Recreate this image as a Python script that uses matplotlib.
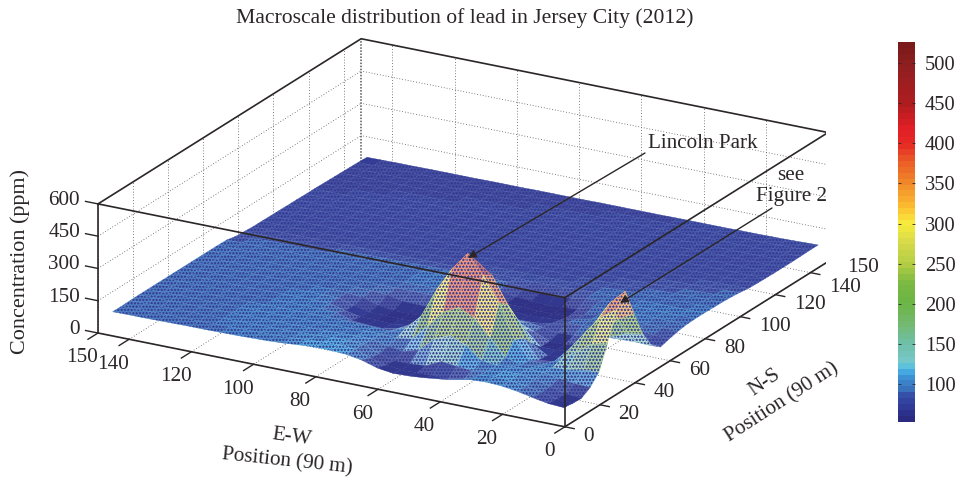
import numpy as np
import matplotlib
matplotlib.use("Agg")
import matplotlib.pyplot as plt
from matplotlib.cm import ScalarMappable
from matplotlib.colors import LinearSegmentedColormap, Normalize
from mpl_toolkits.mplot3d import proj3d

plt.rcParams["font.family"] = ["Liberation Serif", "DejaVu Serif"]
plt.rcParams["hatch.linewidth"] = 0.3
INK = "#2b2627"
FS = 15.2

ew_nodes = [2, 7, 12, 17, 22, 27, 32, 37, 42, 47, 52, 57, 62, 67, 72, 77, 82, 87, 92, 97,
            102, 107, 112, 117, 122, 127, 132, 137, 142, 147]
ns_nodes = [3, 8, 13, 18, 23, 28, 33, 38, 43, 48, 53, 58, 63, 68, 73, 78, 83, 88, 93, 98,
            103, 108, 113, 118, 123, 128, 133, 138, 143, 148]

# lead concentration, one row per N-S node
ppm = [
    [68, 72, 85, 100, 110, 114, 110, 98, 85, 76, 70, 68, 78, 100, 112, 116, 116, 112, 106, 102, 100, 98, 97, 96, 96, 95, 94, 93, 93, 92],
    [62, 68, 84, 100, 110, 114, 106, 72, 58, 60, 58, 58, 66, 84, 110, 116, 114, 110, 105, 102, 100, 99, 98, 97, 96, 95, 95, 94, 93, 92],
    [60, 66, 86, 104, 114, 112, 100, 86, 92, 100, 66, 60, 60, 78, 108, 112, 110, 106, 103, 101, 100, 99, 98, 97, 96, 96, 95, 95, 94, 93],
    [85, 88, 98, 110, 114, 108, 100, 108, 165, 195, 165, 100, 78, 88, 106, 106, 104, 102, 101, 100, 99, 99, 98, 98, 97, 96, 96, 95, 95, 94],
    [130, 125, 112, 108, 100, 92, 112, 190, 265, 300, 265, 185, 110, 100, 104, 104, 102, 101, 100, 100, 99, 99, 98, 97, 97, 96, 96, 95, 95, 94],
    [240, 220, 172, 120, 85, 88, 170, 327, 440, 526, 440, 327, 190, 118, 92, 96, 98, 98, 99, 99, 99, 98, 98, 97, 97, 96, 96, 95, 95, 94],
    [370, 320, 235, 145, 70, 62, 150, 293, 412, 465, 412, 293, 175, 110, 80, 64, 66, 72, 94, 98, 98, 98, 97, 97, 96, 96, 96, 95, 95, 94],
    [430, 360, 250, 150, 66, 58, 100, 205, 293, 327, 293, 217, 140, 90, 68, 60, 64, 64, 78, 97, 98, 98, 97, 97, 96, 96, 96, 95, 95, 94],
    [300, 260, 195, 132, 68, 58, 58, 125, 182, 198, 182, 145, 105, 80, 60, 56, 60, 60, 76, 97, 98, 98, 97, 97, 96, 96, 96, 95, 95, 94],
    [180, 170, 138, 108, 76, 58, 58, 90, 116, 122, 116, 103, 90, 82, 60, 56, 56, 66, 88, 96, 98, 97, 97, 97, 96, 96, 96, 95, 95, 94],
    [100, 102, 100, 98, 95, 74, 70, 84, 92, 92, 92, 90, 88, 86, 74, 72, 74, 90, 94, 96, 97, 97, 97, 96, 96, 96, 95, 95, 95, 94],
    [68, 74, 88, 95, 96, 95, 92, 76, 64, 62, 64, 74, 92, 96, 96, 96, 96, 96, 96, 96, 97, 97, 96, 96, 96, 96, 95, 95, 94, 94],
    [80, 84, 92, 97, 98, 98, 84, 66, 62, 58, 62, 64, 78, 97, 98, 98, 98, 97, 97, 97, 97, 97, 96, 96, 96, 96, 95, 95, 94, 94],
    [90, 92, 96, 98, 98, 98, 78, 58, 55, 54, 58, 58, 76, 98, 98, 98, 98, 97, 97, 97, 97, 97, 96, 96, 95, 95, 95, 94, 94, 93],
    [96, 97, 98, 98, 98, 97, 92, 64, 60, 56, 60, 64, 82, 98, 98, 98, 98, 97, 97, 97, 96, 96, 96, 95, 95, 95, 94, 94, 88, 84],
    [98, 98, 98, 98, 98, 97, 95, 88, 75, 68, 72, 84, 92, 94, 94, 93, 92, 92, 90, 88, 88, 87, 86, 85, 84, 84, 83, 83, 82, 81],
    [98, 98, 97, 97, 97, 96, 95, 93, 90, 86, 85, 84, 84, 84, 83, 83, 82, 82, 82, 81, 81, 81, 80, 80, 80, 79, 79, 79, 78, 78],
    [97, 97, 97, 96, 96, 95, 92, 88, 84, 83, 83, 83, 82, 82, 82, 82, 81, 81, 81, 81, 80, 80, 80, 80, 79, 79, 79, 78, 78, 78],
    [96, 96, 95, 94, 92, 88, 84, 83, 83, 82, 82, 82, 82, 82, 81, 81, 81, 81, 80, 80, 80, 80, 79, 79, 79, 79, 78, 78, 78, 77],
    [94, 93, 91, 88, 85, 83, 82, 82, 82, 82, 82, 81, 81, 81, 81, 81, 80, 80, 80, 80, 79, 79, 79, 79, 78, 78, 78, 78, 77, 77],
    [90, 88, 85, 83, 82, 81, 81, 81, 81, 81, 81, 81, 80, 80, 80, 80, 80, 79, 79, 79, 79, 79, 78, 78, 78, 78, 77, 77, 77, 76],
    [84, 83, 82, 81, 81, 81, 80, 80, 80, 80, 80, 80, 80, 80, 79, 79, 79, 79, 79, 78, 78, 78, 78, 78, 77, 77, 77, 76, 76, 76],
    [82, 81, 81, 80, 80, 80, 80, 80, 80, 80, 80, 79, 79, 79, 79, 79, 79, 78, 78, 78, 78, 78, 77, 77, 77, 77, 76, 76, 76, 75],
    [81, 80, 80, 80, 80, 79, 79, 79, 79, 79, 79, 79, 79, 78, 78, 78, 78, 78, 78, 77, 77, 77, 77, 77, 76, 76, 76, 75, 75, 75],
    [80, 80, 80, 79, 79, 79, 79, 79, 78, 78, 78, 78, 78, 78, 78, 77, 77, 77, 77, 77, 76, 76, 76, 76, 76, 75, 75, 75, 74, 74],
    [80, 79, 79, 79, 79, 78, 78, 78, 78, 78, 78, 77, 77, 77, 77, 77, 76, 76, 76, 76, 76, 75, 75, 75, 75, 75, 74, 74, 74, 73],
    [80, 79, 79, 78, 78, 78, 78, 77, 77, 77, 77, 77, 76, 76, 76, 76, 76, 75, 75, 75, 75, 75, 74, 74, 74, 74, 73, 73, 73, 72],
    [81, 79, 78, 78, 77, 77, 77, 77, 76, 76, 76, 76, 76, 75, 75, 75, 75, 75, 74, 74, 74, 74, 73, 73, 73, 73, 72, 72, 72, 71],
    [82, 80, 78, 77, 77, 76, 76, 76, 76, 75, 75, 75, 75, 75, 74, 74, 74, 74, 73, 73, 73, 73, 72, 72, 72, 72, 71, 71, 70, 70],
    [82, 80, 78, 77, 76, 76, 75, 75, 75, 75, 74, 74, 74, 74, 74, 73, 73, 73, 73, 72, 72, 72, 71, 71, 71, 71, 70, 70, 69, 68],
]

ew_ticks = [0, 20, 40, 60, 80, 100, 120, 140, 150]
ns_ticks = [0, 20, 40, 60, 80, 100, 120, 140, 150]
conc_ticks = [0, 150, 300, 450, 600]
bar_ticks = [100, 150, 200, 250, 300, 350, 400, 450, 500]

bar_levels = [53, 72, 84, 92, 100, 108, 113, 116, 125, 150, 175, 200, 225, 250, 275, 300, 325, 350, 380, 400, 420, 450, 500, 526]
bar_colors = ["#2a2a80", "#303f9c", "#3650a8", "#3a78c0", "#3a84ca", "#3f95d4", "#45a8e0", "#45bce8", "#77c8cd", "#6fbfa5",
              "#74b86c", "#6cb544", "#7ab942", "#b5ce43", "#d4d94a", "#f8ec3c", "#fbb52f", "#f08c2a", "#ea5a27", "#e52b25",
              "#e11f26", "#b01c20", "#8f1f20", "#7a1a1a"]

norm = Normalize(bar_levels[0], bar_levels[-1])
cmap = LinearSegmentedColormap.from_list(
    "lead", [(norm(v), c) for v, c in zip(bar_levels, bar_colors)], N=64)

fig = plt.figure(figsize=(9.55, 4.79), dpi=100)
W, H = 955.0, 479.0
side = 1000.0
ax = fig.add_axes([0, 0, side / W, side / H], projection="3d", proj_type="ortho")
ax.computed_zorder = False
ax.set_axis_off()
ax.set_xlim(150, 0, view_margin=0)
ax.set_ylim(0, 150, view_margin=0)
ax.set_zlim(0, 600, view_margin=0)
ax.set_xticks([])
ax.set_yticks([])
ax.set_zticks([])
ax.set_box_aspect((536, 534, 138))
ax.view_init(elev=20.8, azim=-60.5)


def to_px(x, y, z):
    ax.apply_aspect()
    px, py, _ = proj3d.proj_transform(x, y, z, ax.get_proj())
    return ax.transData.transform((px, py))


# fit the box to where its corners sit in the picture
left_px, right_px = to_px(150, 0, 0), to_px(0, 150, 0)
side = side * (828 - 98) / (right_px[0] - left_px[0])
ax.set_position([0, 0, side / W, side / H])
left_px = to_px(150, 0, 0)
ax.set_position([(98 - left_px[0]) / W, ((H - 333) - left_px[1]) / H, side / W, side / H])

# grid on the floor and the two back walls
grid = dict(color="#555555", lw=0.6, ls=(0, (1, 2.4)), zorder=1)
for v in ew_ticks[:-1]:
    ax.plot([v, v], [0, 150], [0, 0], **grid)
    ax.plot([v, v], [150, 150], [0, 600], **grid)
for v in ns_ticks[:-1]:
    ax.plot([0, 150], [v, v], [0, 0], **grid)
    ax.plot([150, 150], [v, v], [0, 600], **grid)
for v in conc_ticks[1:-1]:
    ax.plot([150, 150], [0, 150], [v, v], **grid)
    ax.plot([0, 150], [150, 150], [v, v], **grid)
ax.plot([150, 150], [150, 150], [0, 600], color="#555555", lw=1.1, ls=(0, (1, 1)), zorder=1)

# surface, tinted towards white where the mesh spreads out on the slopes
XX, YY = np.meshgrid(ew_nodes, ns_nodes)
ZZ = np.array(ppm, dtype=float)
cells = (ZZ[:-1, :-1] + ZZ[1:, :-1] + ZZ[:-1, 1:] + ZZ[1:, 1:]) / 4
rgba = cmap(norm(cells))
dzdy, dzdx = np.gradient(ZZ)
slope = np.hypot(dzdx, dzdy)[:-1, :-1]
tint = np.clip(0.1 + slope / 200, 0, 0.42)
tint = np.where(cells < 70, 0.03, tint)[..., None]
rgba[..., :3] = rgba[..., :3] * (1 - tint) + tint
surf = ax.plot_surface(XX, YY, ZZ, facecolors=rgba, rstride=1, cstride=1, shade=False,
                       linewidth=0.25, antialiased=True, zorder=2)
surf.set_hatch("*****")
surf._hatch_color = (1, 1, 1, 1)

# box
box = dict(color=INK, lw=1.2, zorder=5)
ax.plot([150, 0, 0], [0, 0, 150], [0, 0, 0], **box)
ax.plot([150, 150, 0, 0, 150], [0, 150, 150, 0, 0], [600] * 5, **box)
for bx, by in [(150, 0), (0, 0), (0, 150)]:
    ax.plot([bx, bx], [by, by], [0, 600], **box)


def tick_label(x, y, z, text, ha):
    px, py = to_px(x, y, z)
    fig.text(px / W, py / H, text, ha=ha, va="center", fontsize=FS, color=INK)


# ticks and their labels, the last two N-S labels pulled apart
ns_label_z = {140: -50, 150: -8}
tick = dict(color=INK, lw=1.0, zorder=5)
for v in ew_ticks:
    ax.plot([v, v], [0, -5.7], [0, 0], **tick)
    tick_label(v, -9, -70, str(v), "center")
for v in ns_ticks:
    ax.plot([0, -3], [v, v], [0, 0], **tick)
    tick_label(-6, v, ns_label_z.get(v, -28), str(v), "left")
for v in conc_ticks:
    ax.plot([150, 154], [0, 0], [v, v], **tick)
    tick_label(155.8, 0, v, str(v), "right")

fig.text(465 / W, 1 - 18 / H, "Macroscale distribution of lead in Jersey City (2012)",
         ha="center", va="center", fontsize=15.6, color=INK)
fig.text(20 / W, 1 - 262 / H, "Concentration (ppm)", rotation=90, ha="center", va="center",
         fontsize=15.9, color=INK)
fig.text(292 / W, 1 - 437 / H, "E-W", rotation=-8, ha="center", va="center", fontsize=FS, color=INK)
fig.text(287 / W, 1 - 462 / H, "Position (90 m)", rotation=-6, ha="center", va="center", fontsize=FS, color=INK)
fig.text(765 / W, 1 - 383 / H, "N-S", rotation=35, ha="center", va="center", fontsize=FS, color=INK)
fig.text(782 / W, 1 - 403 / H, "Position (90 m)", rotation=33, ha="center", va="center", fontsize=FS, color=INK)

arrow = dict(arrowstyle="-|>", color=INK, lw=1.0, mutation_scale=12, shrinkA=0, shrinkB=0)
ax.annotate("", xy=(468 / W, 1 - 258 / H), xytext=(645 / W, 1 - 153 / H),
            xycoords="figure fraction", textcoords="figure fraction", arrowprops=arrow, zorder=7)
ax.annotate("", xy=(620 / W, 1 - 303 / H), xytext=(772 / W, 1 - 208 / H),
            xycoords="figure fraction", textcoords="figure fraction", arrowprops=arrow, zorder=7)
fig.text(648 / W, 1 - 143 / H, "Lincoln Park", ha="left", va="center", fontsize=FS, color=INK)
fig.text(791 / W, 1 - 175 / H, "see", ha="center", va="center", fontsize=FS, color=INK)
fig.text(791 / W, 1 - 196 / H, "Figure 2", ha="center", va="center", fontsize=FS, color=INK)

# colour bar
cax = fig.add_axes([898 / W, 1 - 422 / H, 17 / W, 380 / H])
cbar = fig.colorbar(ScalarMappable(norm=norm, cmap=cmap), cax=cax, ticks=bar_ticks)
cbar.outline.set_visible(False)
cax.tick_params(axis="y", direction="in", left=True, right=True, length=2.5, width=0.6,
                color=INK, labelcolor=INK, labelsize=FS - 0.4, pad=7)

fig.savefig("out.png", dpi=100)
